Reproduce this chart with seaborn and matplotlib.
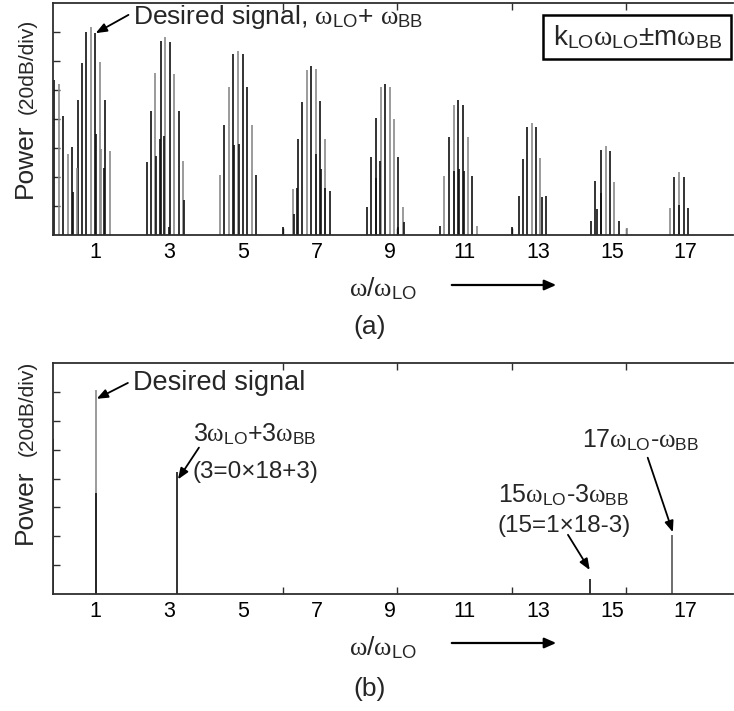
import matplotlib
matplotlib.use("Agg")
import numpy as np
import pandas as pd
import seaborn as sns
import matplotlib.pyplot as plt
from matplotlib.patches import Rectangle, FancyArrowPatch

# ---------------- data ----------------
# x in units of w/w_LO, level in divisions of 20 dB above the floor
h1_x = [-0.111, 0.024, 0.141, 0.260, 0.385, 0.403, 0.504, 0.531, 0.647, 0.764, 0.883, 1.007, 1.026, 1.126, 1.154, 1.251, 1.278, 1.397]
h1_lvl = [5.36, 5.19, 4.09, 2.80, 3.03, 1.47, 2.32, 4.65, 5.94, 7.01, 7.18, 6.98, 3.49, 5.97, 2.97, 2.30, 4.65, 2.89]
h1_col = ["k", "g", "k", "g", "k", "k", "g", "k", "k", "k", "g", "k", "k", "g", "g", "k", "k", "g"]

h3_x = [2.399, 2.507, 2.616, 2.643, 2.751, 2.778, 2.868, 2.895, 2.995, 3.022, 3.138, 3.266, 3.374, 3.401]
h3_lvl = [2.51, 4.27, 5.60, 2.74, 3.32, 6.69, 3.40, 6.82, 0.26, 6.64, 5.55, 4.27, 2.54, 1.22]
h3_col = ["k", "k", "g", "k", "k", "k", "k", "g", "k", "k", "g", "k", "g", "k"]

h5_x = [4.384, 4.500, 4.620, 4.636, 4.736, 4.763, 4.863, 4.890, 4.999, 5.123, 5.242, 5.367]
h5_lvl = [2.08, 3.81, 5.11, 0.05, 6.23, 3.09, 6.34, 3.15, 6.23, 5.11, 3.78, 2.08]
h5_col = ["g", "k", "g", "k", "k", "k", "g", "k", "k", "k", "g", "k"]

h7_x = [6.098, 6.353, 6.380, 6.477, 6.496, 6.613, 6.732, 6.856, 6.975, 6.992, 7.100, 7.119, 7.235, 7.227, 7.363]
h7_lvl = [0.26, 1.59, 0.73, 1.63, 3.30, 4.59, 5.69, 5.82, 5.72, 2.80, 4.62, 2.28, 3.30, 1.63, 1.53]
h7_col = ["k", "g", "k", "k", "k", "k", "g", "k", "g", "k", "k", "k", "g", "k", "k"]

h9_x = [8.356, 8.473, 8.600, 8.616, 8.716, 8.735, 8.860, 8.979, 9.095, 9.212, 9.196, 9.331, 9.358]
h9_lvl = [0.96, 2.69, 4.03, 1.97, 2.54, 5.11, 5.22, 5.09, 4.01, 2.69, 0.26, 0.98, 0.44]
h9_col = ["k", "k", "k", "k", "k", "g", "k", "g", "g", "k", "k", "g", "k"]

h11_x = [10.341, 10.458, 10.585, 10.712, 10.728, 10.829, 10.848, 10.964, 10.983, 11.099, 11.216, 11.335]
h11_lvl = [0.32, 2.05, 3.38, 4.50, 2.19, 4.65, 2.28, 4.47, 2.22, 3.38, 2.05, 0.32]
h11_col = ["k", "g", "k", "g", "k", "k", "k", "k", "k", "g", "k", "g"]

h13_x = [12.299, 12.480, 12.597, 12.705, 12.824, 12.941, 13.057, 13.095, 13.212]
h13_lvl = [0.26, 1.33, 2.63, 3.72, 3.86, 3.72, 2.65, 1.30, 1.33]
h13_col = ["k", "k", "k", "k", "g", "k", "g", "k", "k"]

h15_x = [14.430, 14.546, 14.584, 14.693, 14.709, 14.828, 14.944, 15.061, 15.180, 15.397]
h15_lvl = [0.49, 1.86, 0.90, 1.45, 2.92, 3.07, 2.89, 1.82, 0.49, 0.24]
h15_col = ["k", "k", "k", "k", "k", "g", "k", "g", "k", "g"]

h17_x = [16.561, 16.686, 16.805, 16.821, 16.940, 17.065]
h17_lvl = [0.93, 1.99, 2.17, 1.05, 1.99, 0.93]
h17_col = ["g", "k", "g", "k", "k", "k"]

# panel (b)
b_x = [-0.13, 1.018, 1.018, 3.23, 14.41, 16.64]
b_lvl = [5.37, 7.06, 3.49, 4.24, 0.51, 2.03]
b_col = ["k", "g", "k", "k", "k", "d"]

tick_vals = [1, 3, 5, 7, 9, 11, 13, 15, 17]
tick_labels = ["1", "3", "5", "7", "9", "11", "13", "15", "17"]
inner_ticks = [3.0, 6.08, 9.17, 12.29, 15.39]
level_ticks = [1, 2, 3, 4, 5, 6, 7]

# ---------------- style ----------------
sns.set_theme(style="white")
plt.rcParams["font.family"] = ["Liberation Sans", "DejaVu Sans"]
plt.rcParams["mathtext.fontset"] = "custom"
plt.rcParams["mathtext.rm"] = "Liberation Sans"
plt.rcParams["mathtext.it"] = "Liberation Serif"
plt.rcParams["mathtext.bf"] = "Liberation Sans"

palette = {"k": "#111111", "g": "#8a8a8a", "d": "#555555"}
SPINE = "#2e2e2e"

top_df = pd.DataFrame({
    "x": h1_x + h3_x + h5_x + h7_x + h9_x + h11_x + h13_x + h15_x + h17_x,
    "lvl": h1_lvl + h3_lvl + h5_lvl + h7_lvl + h9_lvl + h11_lvl + h13_lvl + h15_lvl + h17_lvl,
    "col": h1_col + h3_col + h5_col + h7_col + h9_col + h11_col + h13_col + h15_col + h17_col,
})
bot_df = pd.DataFrame({"x": b_x, "lvl": b_lvl, "col": b_col})

W, H = 734, 711
fig = plt.figure(figsize=(W / 100, H / 100), dpi=100)

def fx(px):
    return px / W

def fy(py):
    return 1 - py / H

ax1 = fig.add_axes([fx(53), fy(235), fx(733) - fx(53), fy(3) - fy(235)])
ax2 = fig.add_axes([fx(53), fy(594), fx(733) - fx(53), fy(363) - fy(594)])

for ax, df in ((ax1, top_df), (ax2, bot_df)):
    d = df.sort_values("lvl", ascending=False)
    ax.vlines(d["x"], 0, d["lvl"], colors=[palette[c] for c in d["col"]], lw=1.2, zorder=2)
    ax.set_xlim(-0.138, 18.28)
    ax.set_ylim(0, 8)
    ax.set_xticks(tick_vals)
    ax.set_xticklabels(tick_labels, fontsize=15.5)
    ax.set_xticks(inner_ticks, minor=True)
    ax.set_yticks(level_ticks)
    ax.set_yticklabels([])
    ax.tick_params(axis="x", which="major", length=0, pad=5, colors="black")
    ax.tick_params(axis="x", which="minor", direction="in", length=5, width=1.0,
                   color=SPINE, top=True, bottom=True)
    ax.tick_params(axis="y", which="major", direction="in", length=5, width=1.0,
                   color=SPINE, left=True, right=False)
    ax.set_xlabel("")
    ax.set_ylabel("")
    ax.grid(False)
    sns.despine(ax=ax, top=False, right=True, left=False, bottom=False)
    for s in ("left", "top", "bottom"):
        ax.spines[s].set_color(SPINE)
        ax.spines[s].set_linewidth(1.3)

arrow_kw = dict(arrowstyle="-|>,head_length=0.55,head_width=0.22", color="black", lw=1.3,
                shrinkA=0, shrinkB=0)

# ---- panel (a) annotations ----
ax1.text(2.03, 7.52, r"Desired signal, $\omega_{\mathrm{LO}}$+ $\omega_{\mathrm{BB}}$",
         fontsize=19, ha="left", va="center")
ax1.annotate("", xy=(1.018, 6.96), xytext=(1.906, 7.59), arrowprops=arrow_kw)
fig.add_artist(Rectangle((fx(543), fy(59)), fx(731) - fx(543), fy(15) - fy(59),
                         transform=fig.transFigure, fill=False, lw=1.8, ec="black"))
fig.text(fx(638), fy(37), r"k$_{\mathrm{LO}}\omega_{\mathrm{LO}}$±m$\omega_{\mathrm{BB}}$",
         fontsize=20, ha="center", va="center")

# ---- panel (b) annotations ----
ax2.text(2.03, 7.31, "Desired signal", fontsize=19.5, ha="left", va="center")
ax2.annotate("", xy=(1.045, 6.76), xytext=(1.89, 7.31), arrowprops=arrow_kw)
ax2.text(3.653, 5.55, r"3$\omega_{\mathrm{LO}}$+3$\omega_{\mathrm{BB}}$", fontsize=18, ha="left", va="center")
ax2.text(3.653, 4.21, "(3=0×18+3)", fontsize=17.5, ha="left", va="center")
ax2.annotate("", xy=(3.247, 3.97), xytext=(3.815, 5.07), arrowprops=arrow_kw)
ax2.text(11.91, (594 - 495) / 29, r"15$\omega_{\mathrm{LO}}$-3$\omega_{\mathrm{BB}}$", fontsize=18, ha="left", va="center")
ax2.text(11.91, (594 - 526) / 29, "(15=1×18-3)", fontsize=17.5, ha="left", va="center")
ax2.annotate("", xy=(14.40, 0.83), xytext=(13.81, 2.05), arrowprops=arrow_kw)
ax2.text(14.19, 5.31, r"17$\omega_{\mathrm{LO}}$-$\omega_{\mathrm{BB}}$", fontsize=18, ha="left", va="center")
ax2.annotate("", xy=(16.65, 2.14), xytext=(15.97, 4.72), arrowprops=arrow_kw)

# ---- axis labels ----
for (p_y, d_y, xl_y, ar_y, tag, tag_y) in ((161, 66, 289, 285, "(a)", 327),
                                             (507, 408, 648, 643, "(b)", 689)):
    fig.text(fx(25), fy(p_y), "Power", rotation=90, fontsize=19, ha="center", va="center")
    fig.text(fx(27), fy(d_y), "(20dB/div)", rotation=90, fontsize=15, ha="center", va="center")
    fig.text(fx(383), fy(xl_y), r"$\omega$/$\omega_{\mathrm{LO}}$", fontsize=19, ha="center", va="center")
    fig.add_artist(FancyArrowPatch((fx(449), fy(ar_y)), (fx(559), fy(ar_y)),
                                   transform=fig.transFigure,
                                   arrowstyle="-|>,head_length=0.5,head_width=0.22",
                                   mutation_scale=14, lw=1.6, color="black"))
    fig.text(fx(370), fy(tag_y), tag, fontsize=19, ha="center", va="center")

fig.savefig("out.png", dpi=100)
